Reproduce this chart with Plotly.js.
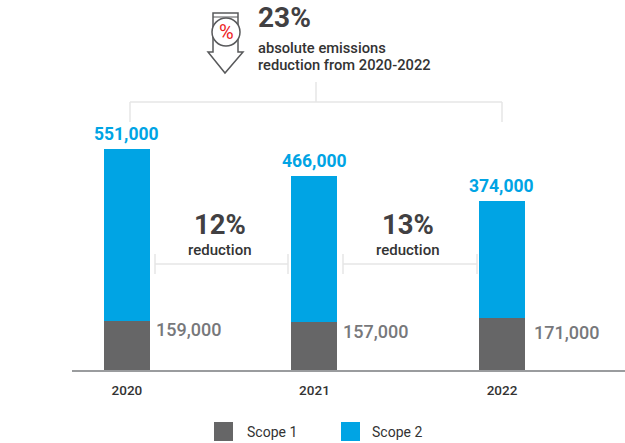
<!DOCTYPE html>
<html>
<head>
<meta charset="utf-8">
<script src="https://cdn.plot.ly/plotly-3.0.1.min.js"></script>
<style>html,body{margin:0;padding:0;background:#fff;overflow:hidden}</style>
</head>
<body>
<div id="chart" style="width:625px;height:443px"></div>
<script>
// Emissions by year, tonnes
const years = ['2020', '2021', '2022'];
const scope1 = [159000, 157000, 171000];
const scope2 = [551000, 466000, 374000];
const seriesNames = ['Scope 1', 'Scope 2'];
const headline = '23%';
const headlineNote = ['absolute emissions', 'reduction from 2020-2022'];
const stepChanges = ['12%', '13%'];

const GREY = '#666667', BLUE = '#00a4e4', DARK = '#414042', RULE = '#e6e6e6';
const FONT = 'Roboto, sans-serif';

// Plot area geometry, used to place decoration in pixel terms
const W = 625, H = 443, L = 72, BASE = 371;
const fx = px => (px - L) / (W - L);
const fy = py => (BASE - py) / BASE;

const line = (x0, y0, x1, y1) => ({
  type: 'line', xref: 'paper', yref: 'paper',
  x0: fx(x0), y0: fy(y0), x1: fx(x1), y1: fy(y1),
  line: {color: RULE, width: 1.5}, layer: 'below'
});
const label = (x, y, text, size, color, anchor, weight) => ({
  xref: 'paper', yref: 'paper', x: fx(x), y: fy(y), text, showarrow: false,
  xanchor: anchor, yanchor: 'middle', borderpad: 0,
  font: {family: FONT, size, color, weight: weight || 500}
});
const path = pts => 'M' + pts.map(p => fx(p[0]) + ',' + fy(p[1])).join('L') + 'Z';

const fmt = v => v.toLocaleString('en-US');

// Scope 2 totals sit above each column; scope 1 values sit beside it
const scope1LabelX = [155, 342, 533];
const scope1LabelY = [329, 331, 332];
const valueLabels = [];
years.forEach((yr, i) => {
  valueLabels.push({
    x: i, y: scope1[i] + scope2[i], xref: 'x', yref: 'y', text: fmt(scope2[i]),
    showarrow: false, yanchor: 'bottom', yshift: 3,
    font: {family: FONT, size: 17.5, color: BLUE, weight: 700}
  });
  valueLabels.push(label(scope1LabelX[i], scope1LabelY[i], fmt(scope1[i]), 18, '#77787b', 'left', 500));
});

const traces = [
  {type: 'bar', name: seriesNames[0], x: years, y: scope1, marker: {color: GREY}, width: 0.245},
  {type: 'bar', name: seriesNames[1], x: years, y: scope2, marker: {color: BLUE}, width: 0.245}
];

const layout = {
  width: W, height: H,
  margin: {l: L, r: 0, t: 0, b: H - BASE},
  paper_bgcolor: '#fff', plot_bgcolor: '#fff',
  barmode: 'stack', showlegend: false,
  xaxis: {
    type: 'category', range: [-0.293, 2.656], fixedrange: true,
    showgrid: false, zeroline: false, showline: false,
    ticks: 'outside', ticklen: 7, tickcolor: 'rgba(0,0,0,0)',
    tickfont: {family: FONT, size: 13.5, color: '#333', weight: 500}
  },
  yaxis: {
    range: [0, 1187200], fixedrange: true, showgrid: false, zeroline: false,
    showticklabels: false, ticks: ''
  },
  shapes: [
    // baseline
    {type: 'line', xref: 'paper', yref: 'paper', x0: 0, x1: 1, y0: 0, y1: 0, line: {color: '#9a9c9e', width: 2}},
    // overall bracket
    line(130, 102, 502, 102), line(130, 102, 130, 122), line(502, 102, 502, 122), line(316, 82, 316, 102),
    // year-on-year brackets
    line(155, 264, 288, 264), line(155, 254, 155, 274), line(288, 254, 288, 274),
    line(343, 264, 477, 264), line(343, 254, 343, 274), line(477, 254, 477, 274),
    // reduction icon: outlined arrow with a ring
    {type: 'path', xref: 'paper', yref: 'paper', fillcolor: '#fff', line: {color: '#58595b', width: 1.5},
     path: path([[213, 13], [238, 13], [238, 52], [243, 52], [225, 73], [208, 52], [213, 52]])},
    {type: 'line', xref: 'paper', yref: 'paper', line: {color: '#58595b', width: 1},
     x0: fx(213), x1: fx(238), y0: fy(17), y1: fy(17)},
    {type: 'circle', xref: 'paper', yref: 'paper', fillcolor: '#fff', line: {color: '#58595b', width: 1.5},
     x0: fx(212), x1: fx(240), y0: fy(46), y1: fy(18)},
    // legend swatches
    {type: 'rect', xref: 'paper', yref: 'paper', fillcolor: GREY, line: {width: 0},
     x0: fx(214), x1: fx(233), y0: fy(441), y1: fy(422)},
    {type: 'rect', xref: 'paper', yref: 'paper', fillcolor: BLUE, line: {width: 0},
     x0: fx(341), x1: fx(360), y0: fy(441), y1: fy(422)}
  ],
  annotations: valueLabels.concat([
    label(226, 32, '%', 20, '#ed1c24', 'center', 400),
    label(257, 18, headline, 28, DARK, 'left', 700),
    label(257, 48, headlineNote[0], 14.7, '#333', 'left', 500),
    label(257, 65, headlineNote[1], 14.7, '#333', 'left', 500),
    label(220, 224, stepChanges[0], 27.5, DARK, 'center', 700),
    label(220, 250, 'reduction', 15, '#333', 'center', 500),
    label(408, 224, stepChanges[1], 27.5, DARK, 'center', 700),
    label(408, 250, 'reduction', 15, '#333', 'center', 500),
    label(246, 432, seriesNames[0], 14, '#333', 'left', 400),
    label(371, 432, seriesNames[1], 14, '#333', 'left', 400)
  ])
};

Plotly.newPlot('chart', traces, layout, {staticPlot: true, displayModeBar: false});
</script>
</body>
</html>
